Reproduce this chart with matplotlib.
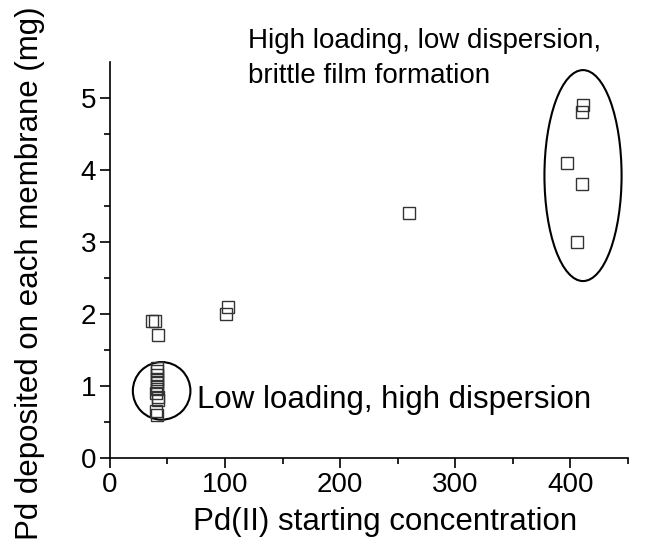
import numpy as np
import matplotlib.pyplot as plt
from matplotlib.patches import Ellipse

plt.rcParams['font.family'] = ['Liberation Sans', 'DejaVu Sans']

# Pd(II) starting concentration vs Pd deposited (mg)
conc = [37, 39, 42, 41, 41, 41, 41, 41, 41, 41, 40, 42, 42, 40, 41,
        101, 103, 260, 397, 406, 410, 410, 411]
pd_mg = [1.9, 1.9, 1.7, 1.25, 1.2, 1.15, 1.1, 1.05, 1.0, 0.95, 0.9, 0.85, 0.8, 0.65, 0.6,
         2.0, 2.1, 3.4, 4.1, 3.0, 3.8, 4.8, 4.9]

fig = plt.figure(figsize=(6.46, 5.47), dpi=100)
ax = fig.add_axes([0.170, 0.163, 0.802, 0.724])

ax.plot(conc, pd_mg, 's', ms=8, mfc='none', mec='#333333', mew=1.0)

# circled groups
ax.add_patch(Ellipse((45, 0.93), 50, 0.8, fill=False, lw=1.5, ec='black'))
ax.add_patch(Ellipse((411, 3.92), 67, 2.93, fill=False, lw=1.5, ec='black'))

ax.text(76, 0.8, 'Low loading, high dispersion', fontsize=22.5, va='center')
ax.text(120, 5.69, 'High loading, low dispersion,', fontsize=20,
        va='baseline', clip_on=False)
ax.text(120, 5.21, 'brittle film formation', fontsize=20,
        va='baseline', clip_on=False)

ax.set_xlim(0, 450)
ax.set_ylim(0, 5.5)
ax.set_xticks([0, 100, 200, 300, 400])
ax.set_xticks([50, 150, 250, 350, 450], minor=True)
ax.set_yticks([0, 1, 2, 3, 4, 5])
ax.set_yticks([0.5, 1.5, 2.5, 3.5, 4.5], minor=True)
ax.spines['top'].set_visible(False)
ax.spines['right'].set_visible(False)
ax.tick_params(which='major', direction='out', length=7, width=1.2, labelsize=20, pad=3)
ax.tick_params(which='minor', direction='out', length=4, width=1.2)
for s in ['left', 'bottom']:
    ax.spines[s].set_linewidth(1.2)

ax.set_xlabel('Pd(II) starting concentration', fontsize=22.5)
ax.set_ylabel('Pd deposited on each membrane (mg)', fontsize=22.5)
ax.xaxis.set_label_coords(0.531, -0.124)
ax.yaxis.set_label_coords(-0.125, 0.465)

fig.savefig('out.png', dpi=100)
